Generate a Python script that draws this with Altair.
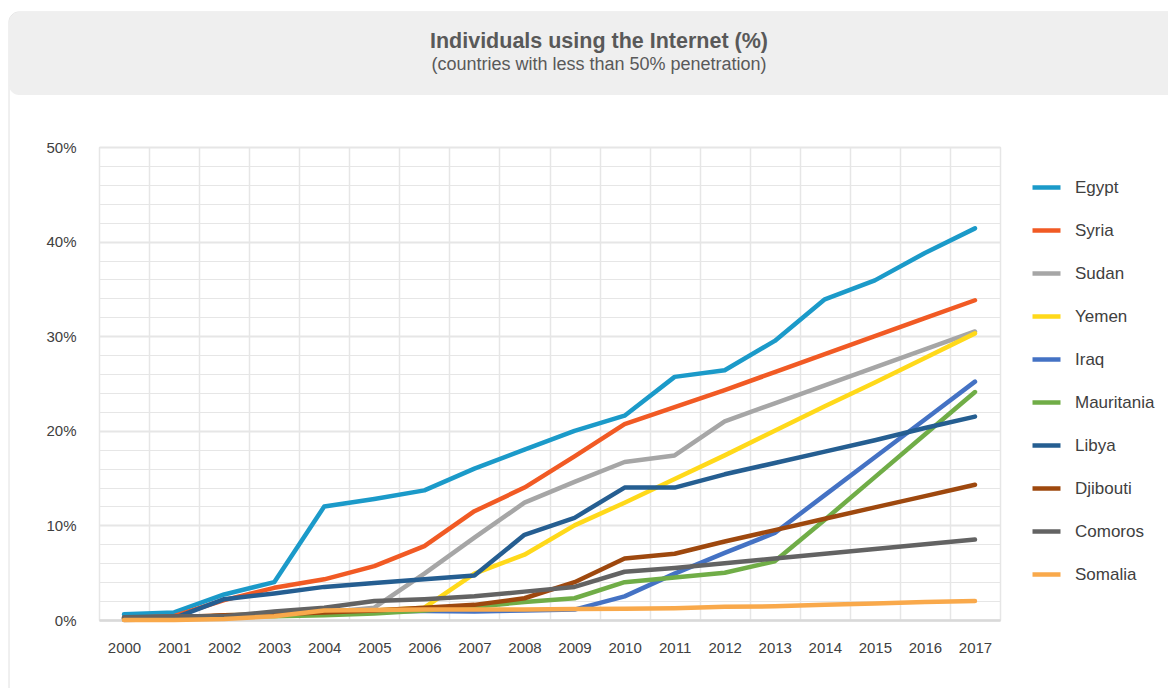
import altair as alt
import pandas as pd

years = [str(y) for y in range(2000, 2018)]
countries = ["Egypt", "Syria", "Sudan", "Yemen", "Iraq", "Mauritania",
             "Libya", "Djibouti", "Comoros", "Somalia"]
colors = ["#1B9AC9", "#F15A24", "#A6A6A6", "#FFD91A", "#4472C4", "#70AD47",
          "#255E91", "#9E480E", "#636363", "#F9A94B"]

egypt = [0.6, 0.8, 2.7, 4.0, 12.0, 12.8, 13.7, 16.0, 18.0, 20.0, 21.6, 25.7, 26.4, 29.5, 33.9, 35.9, 38.8, 41.4]
syria = [0.2, 0.4, 2.1, 3.4, 4.3, 5.7, 7.8, 11.5, 14.0, 17.3, 20.7, 22.5, 24.3, 26.2, 28.1, 30.0, 31.9, 33.8]
sudan = [0.0, 0.1, 0.4, 0.5, 0.8, 1.3, 4.9, 8.7, 12.4, 14.6, 16.7, 17.4, 21.0, 22.9, 24.8, 26.7, 28.6, 30.5]
yemen = [0.1, 0.1, 0.5, 0.6, 0.9, 1.0, 1.3, 4.9, 6.9, 10.0, 12.4, 14.9, 17.4, 20.0, 22.6, 25.1, 27.7, 30.3]
iraq = [0.1, 0.1, 0.5, 0.6, 0.9, 0.9, 0.95, 0.9, 1.0, 1.1, 2.5, 4.9, 7.1, 9.2, 13.2, 17.2, 21.2, 25.2]
mauritania = [0.2, 0.3, 0.4, 0.4, 0.5, 0.7, 1.0, 1.4, 1.9, 2.3, 4.0, 4.5, 5.0, 6.2, 10.6, 15.1, 19.6, 24.1]
libya = [0.2, 0.2, 2.2, 2.8, 3.5, 3.9, 4.3, 4.7, 9.0, 10.8, 14.0, 14.0, 15.4, 16.6, 17.8, 19.0, 20.3, 21.5]
djibouti = [0.2, 0.3, 0.5, 0.6, 0.8, 1.0, 1.3, 1.6, 2.3, 4.0, 6.5, 7.0, 8.3, 9.5, 10.7, 11.9, 13.1, 14.3]
comoros = [0.3, 0.4, 0.4, 0.9, 1.3, 2.0, 2.2, 2.5, 3.0, 3.5, 5.1, 5.5, 6.0, 6.5, 7.0, 7.5, 8.0, 8.5]
somalia = [0.0, 0.0, 0.1, 0.4, 1.0, 1.05, 1.1, 1.1, 1.1, 1.15, 1.2, 1.25, 1.4, 1.45, 1.6, 1.75, 1.9, 2.0]

series = {"Egypt": egypt, "Syria": syria, "Sudan": sudan, "Yemen": yemen,
          "Iraq": iraq, "Mauritania": mauritania, "Libya": libya,
          "Djibouti": djibouti, "Comoros": comoros, "Somalia": somalia}

title_text = "Individuals using the Internet (%)"
subtitle_text = "(countries with less than 50% penetration)"

rows = []
for c in countries:
    for y, v in zip(years, series[c]):
        rows.append({"country": c, "year": y, "value": v})
df = pd.DataFrame(rows)

FONT = "Liberation Sans"

x_enc = alt.X(
    "year:O",
    scale=alt.Scale(type="band", paddingInner=0, paddingOuter=0),
    axis=alt.Axis(title=None, labelAngle=0, tickBand="extent", ticks=False,
                  grid=True, gridColor="#e6e6e6", gridWidth=1.5,
                  domainColor="#d9d9d9", domainWidth=2.5,
                  labelFontSize=15, labelColor="#404040", labelPadding=20,
                  labelFont=FONT),
)
y_enc = alt.Y(
    "value:Q",
    scale=alt.Scale(domain=[0, 50], nice=False),
    axis=alt.Axis(title=None, values=list(range(0, 52, 2)),
                  labelExpr="datum.value % 10 === 0 ? datum.value + '%' : ''",
                  labelOverlap=False, ticks=False, domain=False,
                  gridColor="#e6e6e6",
                  gridWidth={"condition": {"test": "datum.value % 10 === 0", "value": 2}, "value": 1},
                  labelPadding=23, labelFontSize=15, labelColor="#404040",
                  labelFont=FONT),
)
color_enc = alt.Color(
    "country:N",
    scale=alt.Scale(domain=countries, range=colors),
    legend=alt.Legend(orient="none", legendX=931, legendY=24, title=None,
                      symbolType="stroke", symbolSize=784, symbolStrokeWidth=4.5,
                      labelFontSize=17, labelColor="#404040", labelFont=FONT,
                      rowPadding=17, labelOffset=12, padding=0),
)

base = alt.Chart(df).mark_line(strokeWidth=4.5, strokeCap="round", strokeJoin="round").encode(
    x=x_enc, y=y_enc, color=color_enc
)
lines = [base.transform_filter(alt.datum.country == c) for c in countries]

one = pd.DataFrame({"k": [0]})
header = alt.Chart(one).mark_rect(fill="#efefef", cornerRadius=10).encode(
    x=alt.value(-90), x2=alt.value(1200), y=alt.value(-135), y2=alt.value(-52)
)
card = alt.Chart(one).mark_rect(fillOpacity=0, stroke="#e0e0e0", strokeWidth=1, cornerRadius=10).encode(
    x=alt.value(-90), x2=alt.value(1200), y=alt.value(-135), y2=alt.value(700)
)
title = alt.Chart(pd.DataFrame({"t": [title_text]})).mark_text(
    font=FONT, fontSize=21.5, fontWeight="bold", color="#595959", align="center", baseline="alphabetic"
).encode(text="t:N", x=alt.value(500), y=alt.value(-99.5))
subtitle = alt.Chart(pd.DataFrame({"t": [subtitle_text]})).mark_text(
    font=FONT, fontSize=18, color="#595959", align="center", baseline="alphabetic"
).encode(text="t:N", x=alt.value(500), y=alt.value(-77))

chart = alt.layer(card, header, *lines, title, subtitle).properties(
    width=901, height=473,
    autosize=alt.AutoSizeParams(type="none"),
    padding={"left": 91, "top": 139, "right": 168, "bottom": 68},
    background="white",
).configure_view(stroke=None).configure(font=FONT)

chart.save("out.html", embed_options={"renderer": "svg", "actions": False})
